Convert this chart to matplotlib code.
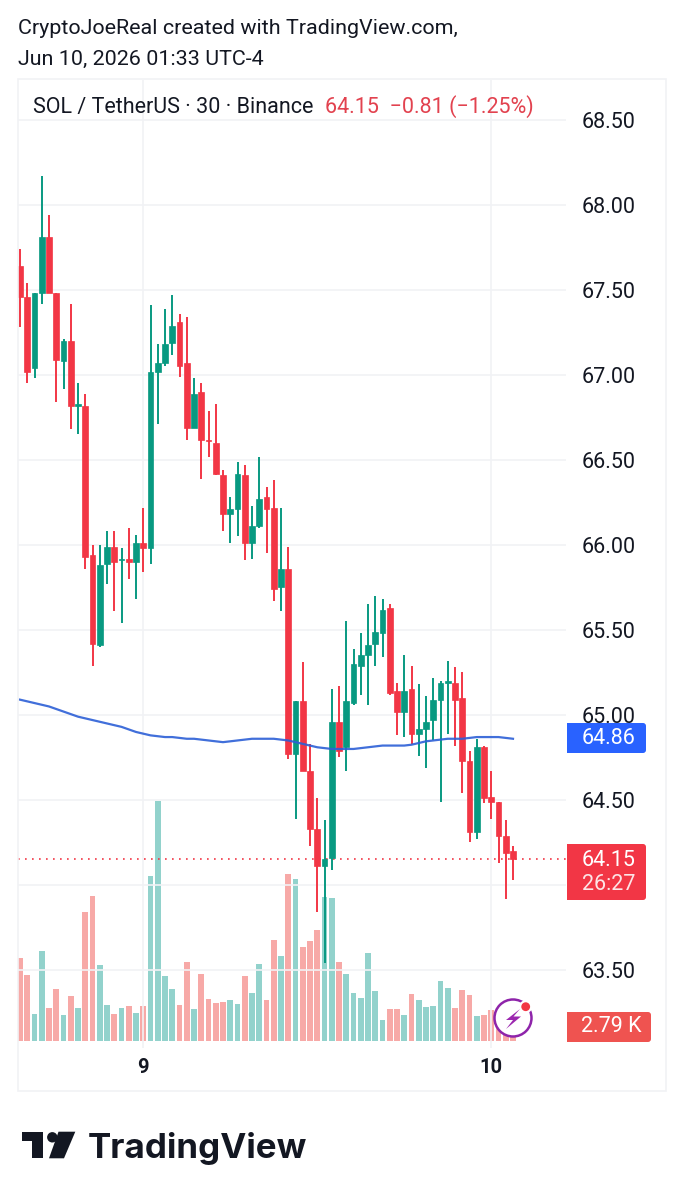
import matplotlib
matplotlib.use('Agg')
import matplotlib.pyplot as plt
from matplotlib.patches import Rectangle, FancyBboxPatch, Circle, Polygon
import numpy as np

### chart values

opens = [67.64, 67.46, 67.04, 67.48, 67.81, 67.48, 67.08, 67.20, 66.82, 66.82,
         65.94, 65.41, 65.89, 65.99, 65.91, 65.92, 65.90, 66.01, 65.98, 67.02,
         67.07, 67.19, 67.31, 67.07, 66.69, 66.90, 66.62, 66.60, 66.41, 66.18,
         66.21, 66.41, 66.01, 66.11, 66.28, 66.22, 65.75, 65.86, 64.77, 65.08,
         64.67, 64.33, 64.11, 64.16, 64.96, 64.81, 65.07, 65.29, 65.35, 65.42,
         65.48, 65.63, 65.14, 65.02, 65.15, 64.89, 64.92, 64.97, 65.09, 65.19,
         65.19, 65.10, 64.73, 64.31, 64.81, 64.52, 64.49, 64.29, 64.20]
highs = [67.74, 67.54, 67.48, 68.17, 67.94, 67.48, 67.21, 67.42, 66.95, 66.89,
         66.00, 66.00, 66.08, 66.08, 65.98, 66.10, 66.06, 66.22, 67.41, 67.18,
         67.39, 67.47, 67.36, 67.34, 66.98, 66.95, 66.79, 66.83, 66.44, 66.28,
         66.49, 66.47, 66.23, 66.52, 66.34, 66.38, 66.22, 65.99, 65.08, 65.31,
         64.83, 64.51, 64.38, 65.15, 65.17, 65.55, 65.39, 65.48, 65.65, 65.70,
         65.68, 65.65, 65.19, 65.35, 65.29, 65.18, 65.11, 65.22, 65.20, 65.32,
         65.28, 65.25, 64.79, 64.86, 64.82, 64.67, 64.49, 64.38, 64.23]
lows = [67.28, 66.95, 66.98, 67.42, 67.48, 66.84, 66.92, 66.68, 66.65, 65.86,
        65.29, 65.40, 65.77, 65.61, 65.54, 65.80, 65.68, 65.84, 65.89, 66.71,
        67.05, 67.12, 66.99, 66.62, 66.69, 66.39, 66.52, 66.41, 66.08, 66.01,
        66.05, 65.91, 65.92, 66.10, 65.95, 65.67, 65.61, 64.74, 64.39, 64.67,
        64.23, 63.84, 63.54, 64.09, 64.75, 64.67, 65.06, 65.12, 65.06, 65.29,
        65.34, 65.12, 64.88, 64.87, 64.83, 64.76, 64.69, 64.85, 64.49, 64.89,
        64.82, 64.54, 64.25, 64.27, 64.48, 64.39, 64.13, 63.92, 64.03]
closes = [67.46, 67.02, 67.48, 67.81, 67.48, 67.09, 67.20, 66.82, 66.83, 65.93,
          65.42, 65.88, 65.99, 65.90, 65.92, 65.90, 66.01, 65.98, 67.02, 67.07,
          67.18, 67.29, 67.05, 66.69, 66.89, 66.62, 66.61, 66.42, 66.18, 66.21,
          66.42, 66.01, 66.11, 66.27, 66.21, 65.74, 65.86, 64.77, 65.08, 64.67,
          64.33, 64.11, 64.15, 64.96, 64.79, 65.08, 65.30, 65.35, 65.41, 65.49,
          65.62, 65.13, 65.02, 65.14, 64.89, 64.92, 64.96, 65.09, 65.19, 65.20,
          65.09, 64.73, 64.31, 64.81, 64.51, 64.49, 64.29, 64.19, 64.15]
volumes = [16.6, 13.2, 5.4, 18.0, 6.6, 10.4, 5.2, 9.0, 6.6, 25.8,
           29.0, 15.2, 7.2, 5.4, 6.6, 7.0, 5.6, 7.0, 33.0, 48.0,
           13.0, 10.4, 7.2, 15.8, 6.4, 13.4, 8.4, 7.6, 7.8, 8.2,
           7.4, 13.0, 9.6, 15.4, 8.2, 20.2, 17.0, 33.4, 32.4, 18.8,
           20.0, 22.2, 28.8, 28.6, 15.8, 13.4, 9.6, 8.6, 17.6, 10.0,
           4.2, 6.4, 6.4, 5.2, 9.4, 8.2, 6.8, 7.0, 12.0, 10.6,
           6.6, 10.2, 9.2, 5.0, 5.2, 6.2, 4.8, 4.0, 2.79]
ma_line = [65.09, 65.08, 65.07, 65.06, 65.05, 65.035, 65.02, 65.005, 64.99, 64.98,
           64.97, 64.96, 64.95, 64.94, 64.93, 64.915, 64.90, 64.89, 64.88, 64.875,
           64.87, 64.87, 64.865, 64.86, 64.86, 64.855, 64.85, 64.845, 64.84, 64.845,
           64.85, 64.855, 64.86, 64.86, 64.86, 64.86, 64.855, 64.85, 64.84, 64.83,
           64.82, 64.81, 64.805, 64.80, 64.80, 64.80, 64.80, 64.805, 64.81, 64.815,
           64.82, 64.82, 64.82, 64.82, 64.825, 64.835, 64.845, 64.85, 64.855, 64.86,
           64.86, 64.86, 64.865, 64.87, 64.87, 64.87, 64.87, 64.865, 64.86]

price_ticks = [63.5, 64.0, 64.5, 65.0, 65.5, 66.0, 66.5, 67.0, 67.5, 68.0, 68.5]
price_labels = ['63.50', '', '64.50', '65.00', '65.50', '66.00', '66.50', '67.00',
                '67.50', '68.00', '68.50']  # 64.00 sits behind the red price tag
day_ticks = [17, 65]
day_labels = ['9', '10']

last_price = 64.15
ma_price = 64.86
countdown = '26:27'
last_volume = '2.79 K'

RED = '#f23645'
GREEN = '#089981'
GRID = '#f1f2f5'
TEXT = '#131722'

plt.rcParams['font.family'] = ['Roboto', 'DejaVu Sans']

W, H = 684, 1200
fig = plt.figure(figsize=(W / 100, H / 100), dpi=100, facecolor='white')


def pixel_rect(left, top, right, bottom):
    return [left / W, 1 - bottom / H, (right - left) / W, (bottom - top) / H]


### price pane

rect = pixel_rect(18, 80, 566, 1048)
ax = fig.add_axes(rect, zorder=2)
ax.patch.set_alpha(0)
x = np.arange(len(closes))
o = np.array(opens)
c = np.array(closes)
colors = [GREEN if b >= a else RED for a, b in zip(o, c)]

ax.vlines(x, lows, highs, colors=colors, linewidth=1.4, zorder=3)
ax.bar(x, np.abs(c - o), bottom=np.minimum(o, c), width=0.82, color=colors,
       edgecolor=colors, linewidth=0.5, zorder=4)
ax.plot(x, ma_line, color='#2c5fd6', linewidth=1.6, alpha=0.9, zorder=5)
ax.axhline(last_price, color=RED, linewidth=1.2, linestyle=(0, (1.0, 3.2)), zorder=2)

ax.set_xlim(-0.276, 75.31)
ax.set_ylim(63.041, 68.735)
ax.set_yticks(price_ticks)
ax.set_yticklabels(price_labels, fontsize=15.5, color=TEXT)
ax.yaxis.tick_right()
ax.tick_params(axis='y', length=0, pad=11.5)
ax.set_xticks(day_ticks)
ax.set_xticklabels(day_labels, fontsize=14.5, fontweight='bold', color=TEXT)
ax.tick_params(axis='x', length=0, pad=7)
ax.grid(True, color=GRID, linewidth=1.2, zorder=0)
ax.set_axisbelow(True)
for s in ax.spines.values():
    s.set_visible(False)

### volume pane, same box, own scale

vax = fig.add_axes(rect, zorder=1)
vax.patch.set_alpha(0)
vol_colors = ['#92d2cc' if g == GREEN else '#f7a9a7' for g in colors]
vax.bar(x, volumes, width=0.76, color=vol_colors, zorder=2)
vax.set_xlim(ax.get_xlim())
vax.set_ylim(-1.4, 192.2)
vax.axis('off')

### frame, header, badges and logo in picture pixels

top = fig.add_axes([0, 0, 1, 1], zorder=5)
top.set_xlim(0, W)
top.set_ylim(H, 0)
top.axis('off')
top.patch.set_alpha(0)

top.add_patch(Rectangle((18, 79), 648, 1012, fill=False, edgecolor=GRID, linewidth=1.2))

top.text(18, 28, 'CryptoJoeReal created with TradingView.com,', fontsize=15.45,
         color=TEXT, va='center')
top.text(18, 59, 'Jun 10, 2026 01:33 UTC-4', fontsize=15.45, color=TEXT, va='center')
top.text(33, 107, 'SOL / TetherUS · 30 · Binance', fontsize=15.5, color=TEXT, va='center')
top.text(325, 107, '%.2f  −%.2f (−%.2f%%)' % (last_price, 0.81, 1.25),
         fontsize=15.5, color='#e2424f', va='center')


def badge(y0, y1, x1, color):
    top.add_patch(FancyBboxPatch((570, y0 + 3), x1 - 573, y1 - y0 - 6,
                                 boxstyle='round,pad=3,rounding_size=3',
                                 facecolor=color, edgecolor='none'))
    top.add_patch(Rectangle((567, y0), 8, y1 - y0, facecolor=color, edgecolor='none'))


badge(723, 753, 646, '#2962ff')
top.text(609, 738, '%.2f' % ma_price, fontsize=15.5, color='white', ha='center', va='center')
badge(844, 900, 646, RED)
top.text(609, 860, '%.2f' % last_price, fontsize=15.5, color='white', ha='center', va='center')
top.text(609, 885, countdown, fontsize=15.5, color='#fde4e6', ha='center', va='center')
badge(1012, 1042, 651, '#ef5350')
top.text(611, 1027, last_volume, fontsize=15.5, color='white', ha='center', va='center')

# the little purple bolt icon
top.add_patch(Circle((513, 1018), 18.5, facecolor='white', edgecolor='#8e24aa', linewidth=1.8))
top.add_patch(Circle((525.7, 1006.7), 6.5, facecolor='white', edgecolor='none'))
top.add_patch(Circle((525.7, 1006.7), 4.4, facecolor=RED, edgecolor='none'))
top.add_patch(Polygon([(520, 1009), (506, 1020), (513, 1020), (506, 1029),
                       (521, 1016.5), (513.5, 1016.5)], facecolor='#9c27b0', edgecolor='none'))

# logo
LOGO = '#131722'
top.add_patch(Polygon([(21.7, 1131.7), (43.3, 1131.7), (43.3, 1158.3), (32.3, 1158.3),
                       (32.3, 1141), (21.7, 1141)], facecolor=LOGO, edgecolor='none'))
top.add_patch(Circle((52.3, 1137.3), 5.2, facecolor=LOGO, edgecolor='none'))
top.add_patch(Polygon([(58.5, 1131.7), (75.3, 1131.7), (64, 1158.3), (49, 1158.3)],
                      facecolor=LOGO, edgecolor='none'))
top.text(88, 1158.3, 'TradingView', fontsize=25.2, fontweight='bold', family=['Inter', 'DejaVu Sans'],
         color=LOGO, va='baseline')

fig.savefig('out.png', dpi=100)
